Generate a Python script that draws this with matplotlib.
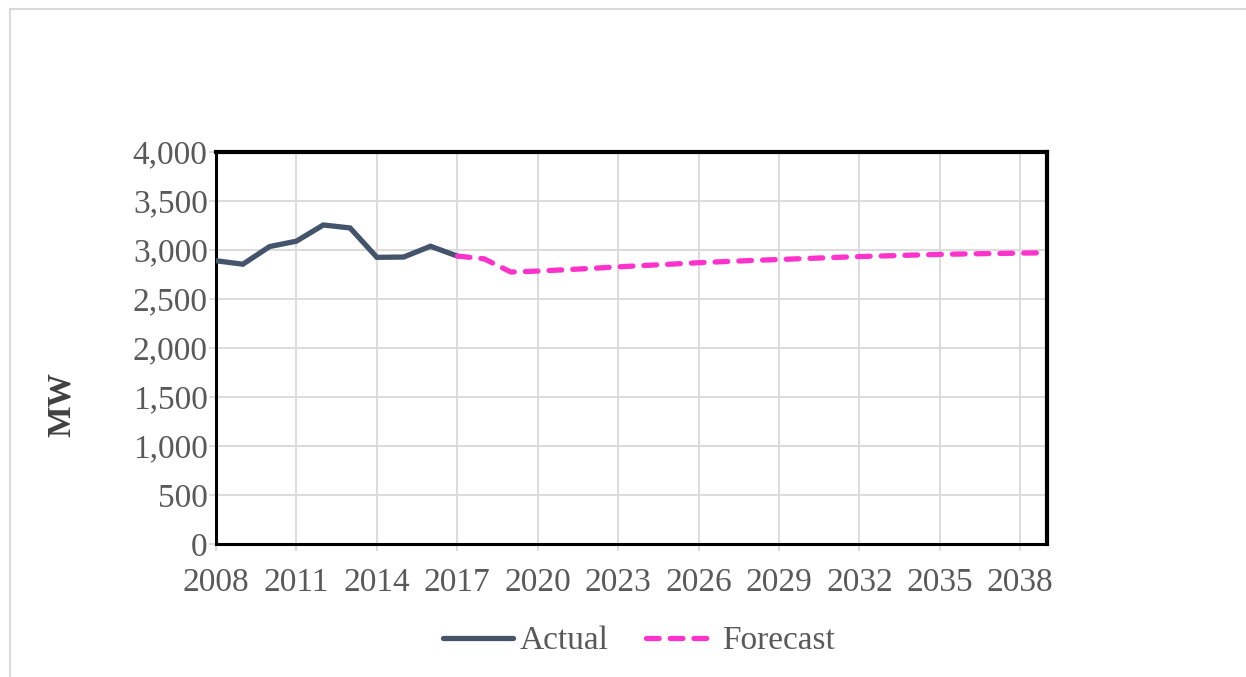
import matplotlib.pyplot as plt
from matplotlib.patches import Rectangle

# Annual peak values (MW)
actual_years = list(range(2008, 2018))
actual_mw = [2890, 2855, 3035, 3090, 3255, 3225, 2925, 2928, 3038, 2938]

forecast_years = list(range(2017, 2040))
forecast_mw = [2938, 2910, 2775, 2785, 2798, 2812, 2828, 2842, 2856, 2870,
               2882, 2893, 2903, 2913, 2923, 2933, 2940, 2948, 2955, 2960,
               2964, 2968, 2972]

x_ticks = list(range(2008, 2039, 3))
y_ticks = list(range(0, 4001, 500))

plt.rcParams['font.family'] = ['Liberation Serif', 'DejaVu Serif']

fig = plt.figure(figsize=(12.46, 6.77), dpi=100)
ax = fig.add_axes([0.1734, 0.1965, 0.8403 - 0.1734, 0.7755 - 0.1965])

# light grey frame around the whole chart area
fig.patches.append(Rectangle((10 / 1246, -0.05), 1.2, 1 - 9 / 677 + 0.05,
                             transform=fig.transFigure, fill=False,
                             edgecolor='#D9D9D9', linewidth=1.5))

ax.plot(actual_years, actual_mw, color='#44546A', linewidth=3.8,
        solid_capstyle='round', solid_joinstyle='miter', label='Actual', zorder=3)
ax.plot(forecast_years, forecast_mw, color='#FF33CC', linewidth=3.8,
        linestyle=(0, (2.4, 2.1)), dash_capstyle='round', label='Forecast', zorder=3)

ax.set_xlim(2008, 2039)
ax.set_ylim(0, 4000)
ax.set_xticks(x_ticks)
ax.set_yticks(y_ticks)
ax.set_yticklabels([f'{v:,}' for v in y_ticks])
ax.grid(True, color='#D9D9D9', linewidth=1.3)
ax.set_axisbelow(True)

ax.tick_params(axis='both', colors='#D9D9D9', labelcolor='#595959',
               labelsize=24, length=5, width=1.3, direction='out')
ax.tick_params(axis='x', pad=12)
ax.tick_params(axis='y', pad=1)

for side in ['top', 'right']:
    ax.spines[side].set_linewidth(3)
    ax.spines[side].set_color('black')
for side in ['left', 'bottom']:
    ax.spines[side].set_linewidth(2.2)
    ax.spines[side].set_color('black')

ax.set_ylabel('MW', fontsize=24, fontweight='bold', color='#404040')
ax.yaxis.set_label_coords(-0.168, 0.357)

fig.legend(loc='center', bbox_to_anchor=(0.513, 1 - 641 / 677), ncol=2,
           frameon=False, fontsize=24, labelcolor='#595959',
           handlelength=2.1, columnspacing=1.1, handletextpad=0.2)

fig.savefig('out.png', dpi=100)
